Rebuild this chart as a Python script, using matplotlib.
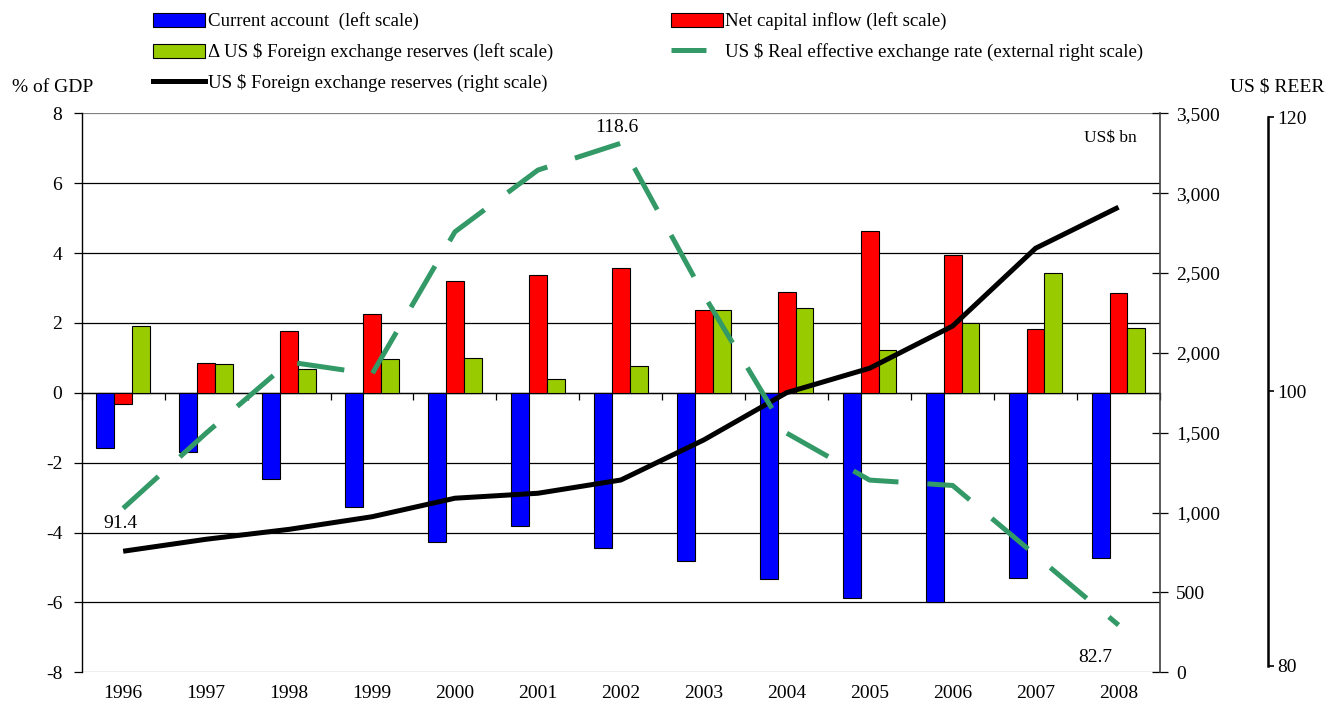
import matplotlib
matplotlib.use("Agg")
import matplotlib.pyplot as plt
import numpy as np
from matplotlib.ticker import FuncFormatter, FixedLocator, NullFormatter
from matplotlib.lines import Line2D
from matplotlib.patches import Patch

plt.rcParams['font.family'] = ['Liberation Serif', 'DejaVu Serif']
plt.rcParams['axes.unicode_minus'] = False

years = ['1996', '1997', '1998', '1999', '2000', '2001', '2002',
         '2003', '2004', '2005', '2006', '2007', '2008']
current_account = [-1.57, -1.69, -2.46, -3.28, -4.26, -3.80, -4.43,
                   -4.80, -5.34, -5.87, -5.98, -5.30, -4.74]
net_capital_inflow = [-0.31, 0.86, 1.77, 2.26, 3.20, 3.38, 3.58,
                      2.36, 2.89, 4.63, 3.94, 1.84, 2.86]
delta_fx_reserves = [1.92, 0.83, 0.69, 0.97, 1.00, 0.40, 0.78,
                     2.36, 2.43, 1.22, 2.01, 3.44, 1.86]
fx_reserves_bn = [758, 833, 895, 974, 1090, 1121, 1204,
                  1455, 1751, 1904, 2168, 2655, 2912]
reer = [91.4, 97.0, 102.3, 101.4, 112.0, 116.6, 118.6,
        107.3, 97.0, 93.5, 93.1, 87.9, 82.7]

W, H = 1327, 711
fig = plt.figure(figsize=(W / 100, H / 100), dpi=100)
L, R, B, T = 81.7, 1160, 672.3, 113.3
ax = fig.add_axes([L / W, 1 - B / H, (R - L) / W, (B - T) / H])

x = np.arange(len(years))
bw = 0.215
fs = 14
lfs = 13.6

ax.bar(x - bw, current_account, bw, color='#0000FF', edgecolor='black', linewidth=0.8, zorder=3)
ax.bar(x, net_capital_inflow, bw, color='#FF0000', edgecolor='black', linewidth=0.8, zorder=3)
ax.bar(x + bw, delta_fx_reserves, bw, color='#99CC00', edgecolor='black', linewidth=0.8, zorder=3)

ax.set_xlim(-0.5, len(years) - 0.5)
ax.set_ylim(-8, 8)
ax.set_yticks(np.arange(-8, 9, 2))
ax.yaxis.grid(True, color='black', linewidth=0.9, zorder=0)
ax.set_axisbelow(True)
ax.tick_params(axis='y', direction='out', length=6, width=0.9, labelsize=fs, pad=8)
gl = ax.get_ygridlines()
gl[0].set_color('#808080')
gl[-1].set_color('#808080')

# x axis at zero with boundary ticks
ax.spines['bottom'].set_position(('data', 0))
ax.spines['bottom'].set_linewidth(0.9)
ax.spines['top'].set_visible(False)
ax.spines['right'].set_visible(False)
ax.spines['left'].set_linewidth(1.0)
ax.xaxis.set_major_locator(FixedLocator(np.arange(-0.5, len(years), 1.0)))
ax.xaxis.set_major_formatter(NullFormatter())
ax.tick_params(axis='x', direction='out', length=5, width=0.9)

sec = ax.secondary_xaxis(0.0)
sec.set_xticks(x)
sec.set_xticklabels(years)
sec.tick_params(axis='x', length=0, labelsize=fs, pad=9)
sec.spines['bottom'].set_visible(False)

# right axis: reserves
ax2 = ax.twinx()
ax2.plot(x, fx_reserves_bn, color='black', linewidth=3.6, zorder=5, solid_capstyle='butt')
ax2.set_ylim(0, 3500)
ax2.set_yticks(np.arange(0, 3501, 500))
ax2.yaxis.set_major_formatter(FuncFormatter(lambda v, p: f'{int(v):,}'))
ax2.tick_params(axis='y', direction='inout', length=11, width=0.9, labelsize=fs, pad=6)
ax2.spines['right'].set_color('#404040')
ax2.spines['right'].set_linewidth(1.2)
for s in ['top', 'left', 'bottom']:
    ax2.spines[s].set_visible(False)

# hidden axis for REER line
ax3 = ax.twinx()
ax3.plot(x, reer, color='#339966', linewidth=3.6, dashes=(9.5, 5.8), zorder=6)
ax3.set_ylim(79.18, 120.83)
ax3.axis('off')

# visible external REER axis
ax4 = ax.twinx()
ax4.set_ylim(79.52, 120.29)
ax4.spines['right'].set_position(('axes', 1.1))
ax4.spines['right'].set_bounds(80, 120)
ax4.spines['right'].set_linewidth(1.8)
for s in ['top', 'left', 'bottom']:
    ax4.spines[s].set_visible(False)
ax4.set_yticks([80, 100, 120])
ax4.tick_params(axis='y', direction='out', length=4, width=1.2, labelsize=fs, pad=3)

ax3.annotate(f'{reer[0]:.1f}', (x[0], reer[0]), xytext=(-2, -11), textcoords='offset points',
             ha='center', va='center', fontsize=fs)
ax3.annotate(f'{reer[6]:.1f}', (x[6], reer[6]), xytext=(-3, 11), textcoords='offset points',
             ha='center', va='center', fontsize=fs)
ax3.annotate(f'{reer[-1]:.1f}', (x[-1], reer[-1]), xytext=(-17, -23), textcoords='offset points',
             ha='center', va='center', fontsize=fs)

fig.text(12 / W, 1 - 87 / H, '% of GDP', fontsize=fs, ha='left', va='center')
fig.text(1324 / W, 1 - 87 / H, 'US $ REER', fontsize=fs, ha='right', va='center')
ax.text((1137 - L) / (R - L), 1 - (138 - T) / (B - T), 'US$ bn',
        transform=ax.transAxes, fontsize=fs - 1.5, ha='right', va='center')

handles = [
    Patch(facecolor='#0000FF', edgecolor='black', linewidth=0.8),
    Patch(facecolor='#99CC00', edgecolor='black', linewidth=0.8),
    Line2D([], [], color='black', linewidth=3.6),
    Patch(facecolor='#FF0000', edgecolor='black', linewidth=0.8),
    Line2D([], [], color='#339966', linewidth=3.6, dashes=(7, 20)),
]
labels = ['Current account  (left scale)',
          '\u0394 US $ Foreign exchange reserves (left scale)',
          'US $ Foreign exchange reserves (right scale)',
          'Net capital inflow (left scale)',
          'US $ Real effective exchange rate (external right scale)']
fig.legend(handles, labels, ncol=2, loc='upper left', bbox_to_anchor=(144 / W, 1 - 3 / H),
           frameon=False, fontsize=lfs, handlelength=2.75, handleheight=0.75,
           handletextpad=0.15, labelspacing=0.68, columnspacing=6.2, borderpad=0)

fig.savefig('out.png', dpi=100)
